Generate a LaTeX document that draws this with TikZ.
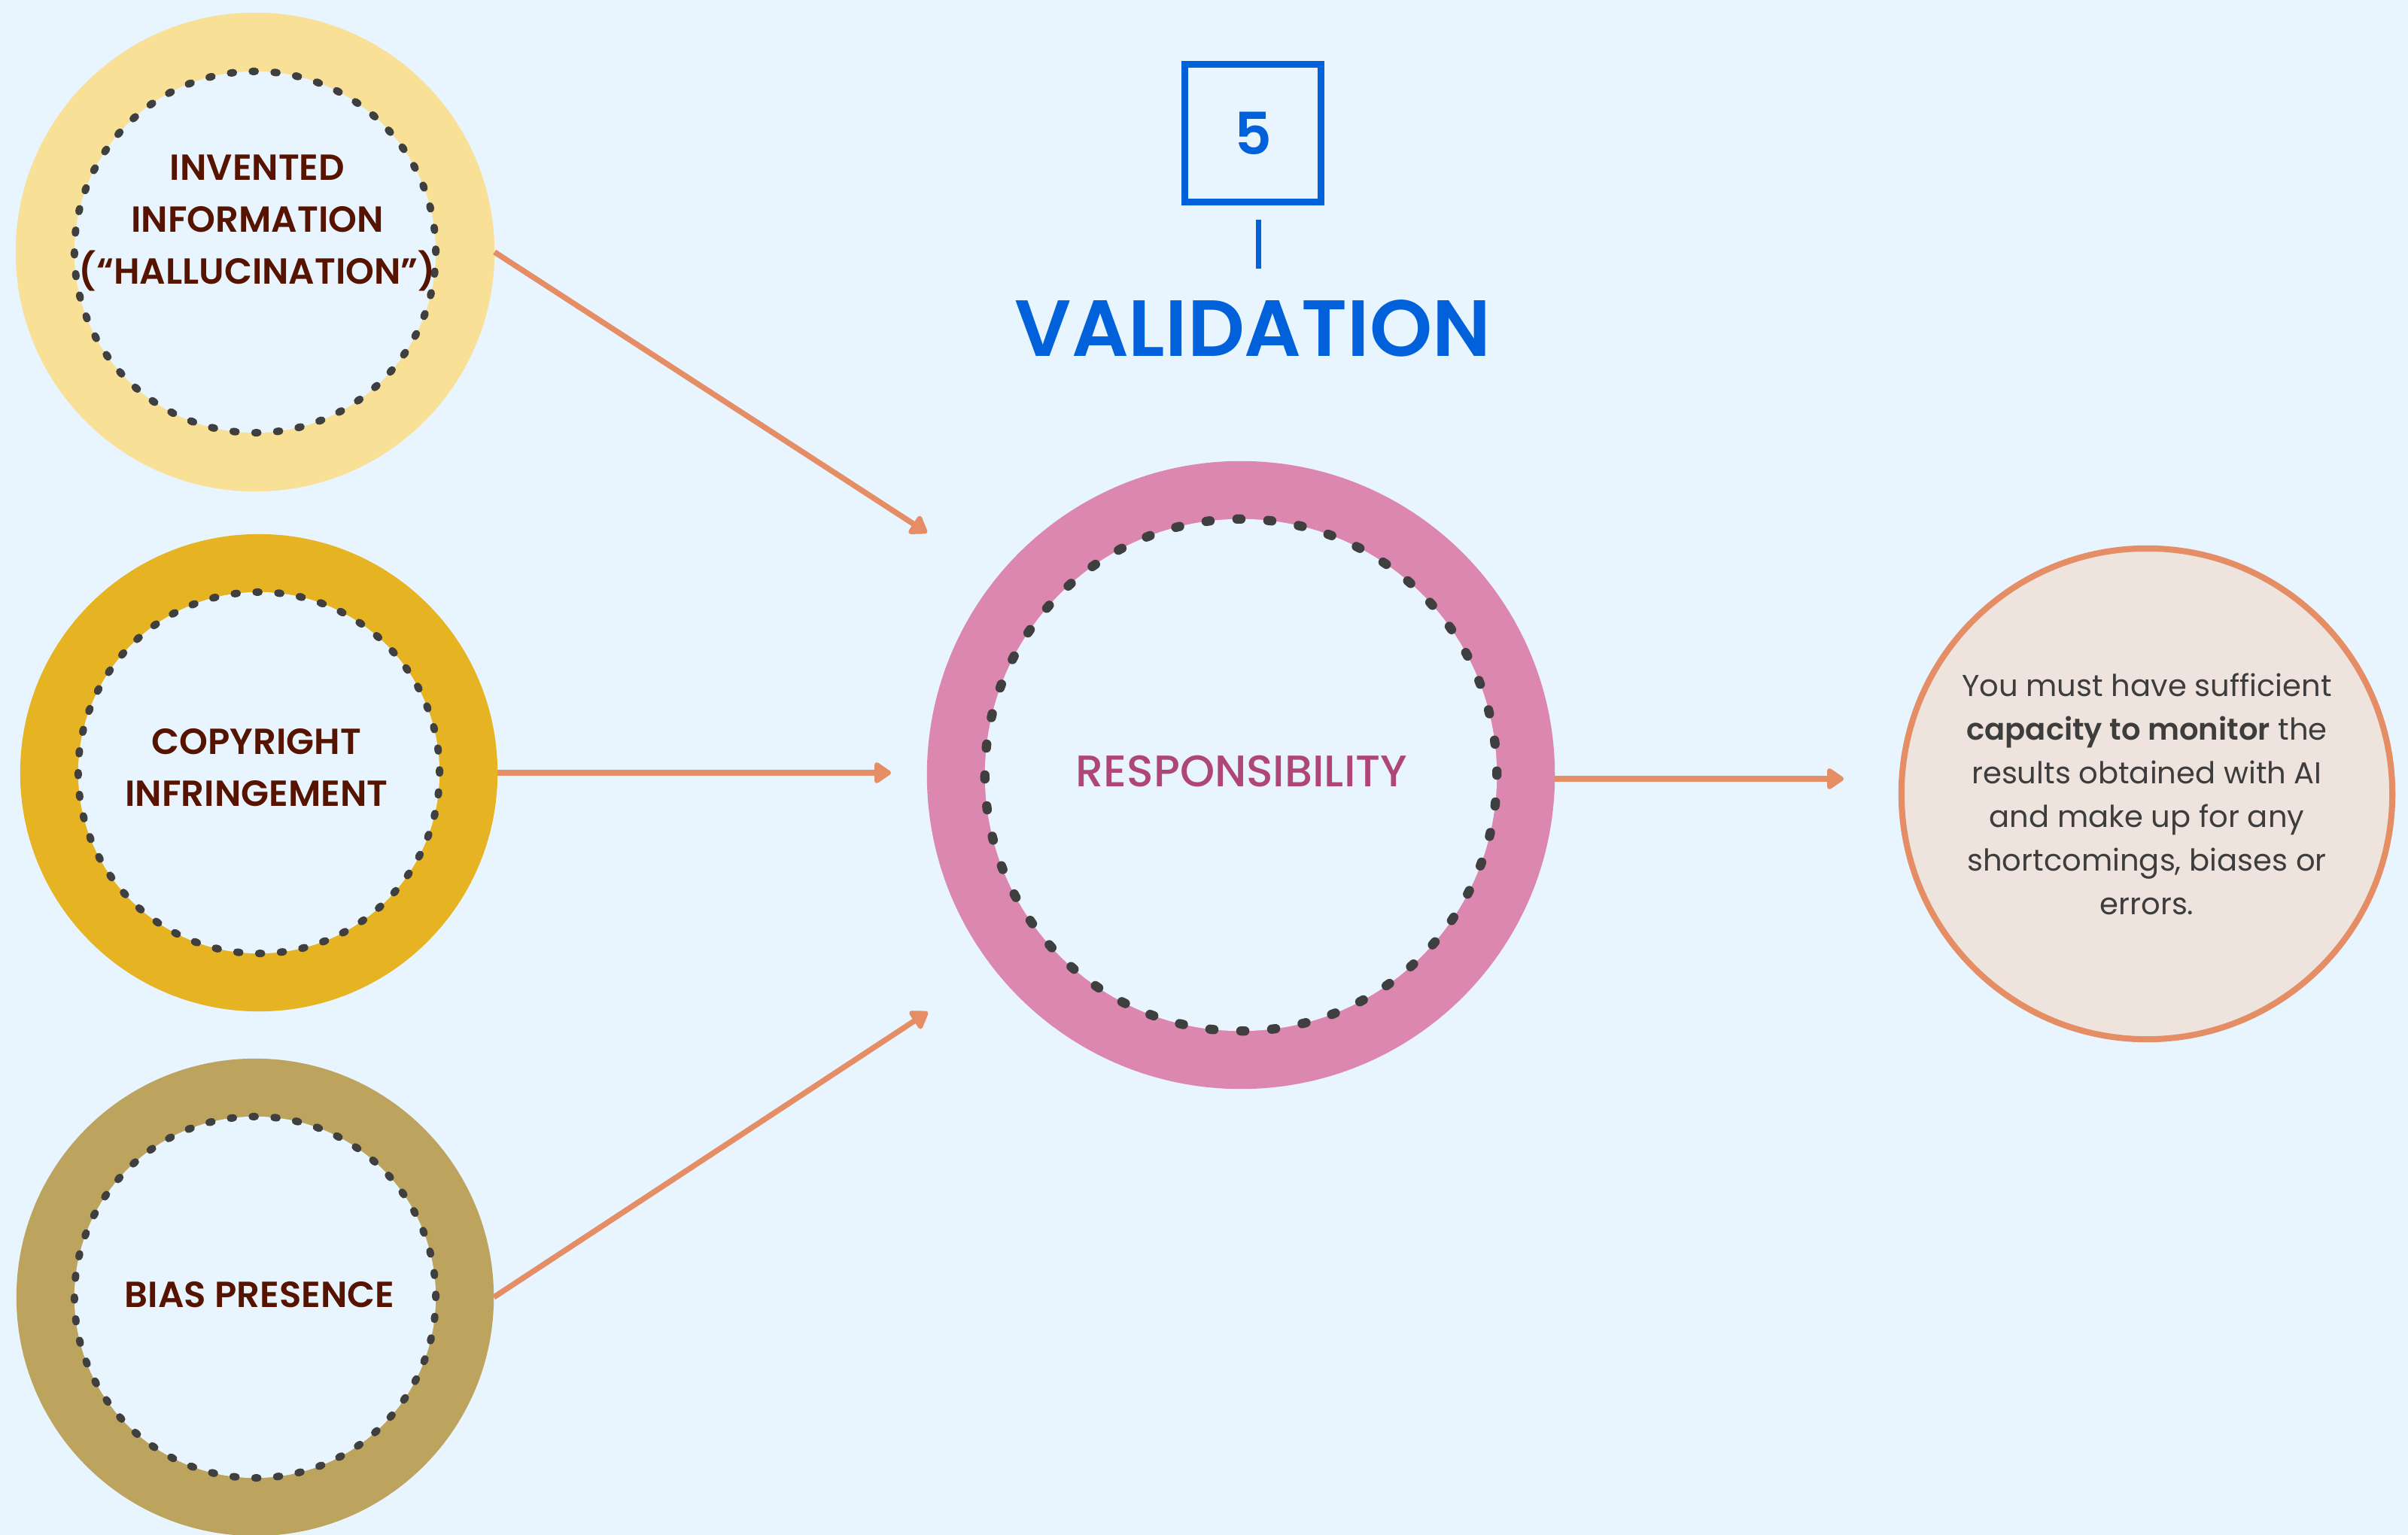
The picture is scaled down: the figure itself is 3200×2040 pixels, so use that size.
\documentclass[tikz,border=0pt]{standalone}
\usepackage{fontspec}
\setmainfont{Poppins}[BoldFont={Poppins SemiBold}]
\newfontfamily\popmed{Poppins Medium}
\usetikzlibrary{arrows.meta, positioning}

\definecolor{bgblue}{HTML}{E8F4FE}
\definecolor{ringsun}{HTML}{F8E096}
\definecolor{ringgold}{HTML}{E6B422}
\definecolor{ringolive}{HTML}{BDA45E}
\definecolor{ringpink}{HTML}{DC87AF}
\definecolor{resptext}{HTML}{AE4679}
\definecolor{labelbrown}{HTML}{561400}
\definecolor{dotgray}{HTML}{3F3F3F}
\definecolor{arrowor}{HTML}{E58E66}
\definecolor{notefill}{HTML}{EEE4DD}
\definecolor{valblue}{HTML}{0061DB}
\definecolor{bodygray}{HTML}{3D3D3D}

\begin{document}
\begin{tikzpicture}[
    x=0.01cm, y=-0.01cm,
    disc/.style={circle, inner sep=0pt, outer sep=0pt},
    hole/.style={circle, inner sep=0pt, fill=bgblue, draw=dotgray, line width=2.8pt,
                 line cap=round, dash pattern=on 1.1pt off 7.15pt, minimum size=4.8cm},
    bighole/.style={hole, line width=3.5pt, dash pattern=on 1.5pt off 10.19pt,
                    minimum size=6.8cm},
    lbl/.style={font=\fontsize{13.7}{19.6}\selectfont\bfseries, text=labelbrown,
                align=center},
    note/.style={circle, inner sep=0pt, outer sep=0pt, fill=notefill, draw=arrowor,
                 line width=2.3pt, minimum size=6.52cm, align=center, text=bodygray,
                 font=\fontsize{11.4}{16.5}\selectfont},
    numbox/.style={draw=valblue, line width=2.4pt, minimum width=1.81cm,
                   minimum height=1.83cm, text=valblue,
                   font=\fontsize{22}{22}\selectfont\bfseries},
    head/.style={text=valblue, font=\fontsize{30.1}{30.1}\selectfont\bfseries},
    arr/.style={-{Triangle[length=7pt, width=9pt, round]}, arrowor, line width=2.1pt}
]

\useasboundingbox (0,0) rectangle (3200,2040);
\fill[bgblue] (0,0) rectangle (3200,2040);

% ============================================================
% title
% ============================================================
\node[numbox] (stepno) at (1665,177) {5};
\coordinate (ticktop) at (1672,292);
\coordinate (tickbot) at (1672,357);
\draw[valblue, line width=2pt] (ticktop) -- (tickbot);
\node[head] (valid) at (1665,436) {VALIDATION};

% ============================================================
% left rings
% ============================================================
\node[disc, fill=ringsun, minimum size=6.36cm] (invented) at (339,335) {};
\node[hole] (inventedin) at (invented) {};
\node[lbl] (inventedtxt) at (342,296) {INVENTED\\INFORMATION\\(“HALLUCINATION”)};

\node[disc, fill=ringgold, minimum size=6.34cm] (copyright) at (344,1027) {};
\node[hole] (copyrightin) at (copyright) {};
\node[lbl] (copyrighttxt) at (341,1020) {COPYRIGHT\\INFRINGEMENT};

\node[disc, fill=ringolive, minimum size=6.34cm] (bias) at (339,1724) {};
\node[hole] (biasin) at (bias) {};
\node[lbl] (biastxt) at (345,1721) {BIAS PRESENCE};

% ============================================================
% centre ring
% ============================================================
\node[disc, fill=ringpink, minimum size=8.34cm] (resp) at (1649,1030) {};
\node[bighole] (respin) at (resp) {};
\node[text=resptext, font=\fontsize{16.7}{16.7}\selectfont\popmed] (resptxt)
    at (1650,1025) {RESPONSIBILITY};

% ============================================================
% note circle
% ============================================================
\node[note] (monitor) at (2853,1055) {You must have sufficient\\
    \textbf{capacity to monitor} the\\results obtained with AI\\
    and make up for any\\shortcomings, biases or\\errors.};

% arrows
\coordinate (tip1) at (1232,708);
\coordinate (tip2) at (1184,1027);
\coordinate (tip3) at (1233,1345);
\coordinate (tip4) at (2450,1035);
\draw[arr] (invented.east) -- (tip1);
\draw[arr] (copyright.east) -- (tip2);
\draw[arr] (bias.east) -- (tip3);
\draw[arr] (resp.east |- tip4) -- (tip4);

\end{tikzpicture}
\end{document}
